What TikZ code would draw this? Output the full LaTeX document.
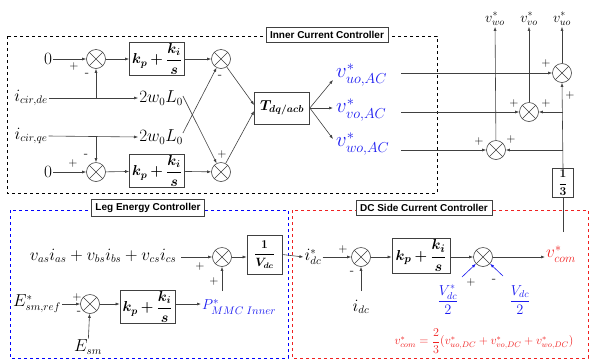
\documentclass[tikz,border=0pt]{standalone}
\usepackage{fontspec}
\setsansfont{Liberation Sans}
\usepackage{amsmath,bm}
\usetikzlibrary{arrows.meta,calc}
\definecolor{ln}{HTML}{404040}
\definecolor{bl}{HTML}{1A1AF0}
\definecolor{rd}{HTML}{F02020}
\begin{document}
\begin{tikzpicture}[x=1pt,y=-1pt,
  ln/.style={draw=ln,line width=0.6pt},
  arr/.style={ln,-{Latex[length=4pt,width=3pt]}},
  sumc/.style={circle,draw=ln,line width=0.6pt,minimum size=19pt,inner sep=0pt,
    path picture={\draw[ln] (path picture bounding box.north west)--(path picture bounding box.south east)
      (path picture bounding box.north east)--(path picture bounding box.south west);}},
  blk/.style={draw=ln,line width=0.7pt,inner sep=1pt,align=center},
  ttl/.style={draw=ln,line width=0.7pt,fill=white,font=\sffamily\bfseries\fontsize{10}{12}\selectfont,inner xsep=4pt,inner ysep=4pt},
  tx/.style={inner sep=1pt,font=\fontsize{16}{18}\selectfont},
  sg/.style={inner sep=0pt,font=\fontsize{13}{14}\selectfont},
  big/.style={inner sep=1pt,font=\fontsize{20}{22}\selectfont,text=bl}
]
\useasboundingbox (0,0) rectangle (590,360);
% ---------------- Inner current controller
\draw[dashed,line width=0.8pt] (7,36) rectangle (437,193);
\node[ttl] (t1) at (327,35) {Inner Current Controller};
\node[tx] (z1) at (48,59) {$0$};
\node[sumc] (s1) at (96,59) {};
\node[blk,minimum width=55pt,minimum height=31pt] (p1) at (157,59) {\fontsize{14}{16}\selectfont$\displaystyle\bm{k_p+\frac{k_i}{s}}$};
\node[sumc] (s2) at (221,59) {};
\node[tx] (icd) at (31,98) {$i_{cir,de}$};
\node[tx] (g1) at (161,98) {$2w_0L_0$};
\node[tx] (icq) at (31,136) {$i_{cir,qe}$};
\node[tx] (g2) at (161,137) {$2w_0L_0$};
\node[tx] (z2) at (48,172) {$0$};
\node[sumc] (s3) at (96,172) {};
\node[blk,minimum width=55pt,minimum height=31pt] (p2) at (157,171) {\fontsize{14}{16}\selectfont$\displaystyle\bm{k_p+\frac{k_i}{s}}$};
\node[sumc] (s4) at (221,172) {};
\node[blk,minimum width=55pt,minimum height=32pt] (T) at (282,108) {\fontsize{14}{16}\selectfont$\bm{T_{dq/acb}}$};
\coordinate (b1) at (96,98);
\coordinate (b2) at (96,137);
\draw[arr] (z1) -- (s1);
\draw[arr] (s1) -- (p1);
\draw[arr] (p1) -- (s2);
\draw[arr] (z2) -- (s3);
\draw[arr] (s3) -- (p2);
\draw[arr] (p2) -- (s4);
\draw[arr] (icd.east) -- (g1.west);
\draw[arr] (icq.east) -- (g2.west);
\draw[arr] (b1) -- (s1.south);
\draw[arr] (b2) -- (s3.north);
\draw[arr] ($(g1.east)+(-1,-2)$) -- (s4);
\draw[arr] ($(g2.east)+(-1,-4)$) -- (s2);
\draw[arr] (s2) -- ($(T.west)+(0,-3)$);
\draw[arr] (s4) -- ($(T.west)+(0,3)$);
\node[sg] at (74,66) {$+$};
\node[sg] at (87,75) {-};
\node[sg] at (220,77) {-};
\node[sg] at (222,154) {$+$};
\node[sg] at (86,156) {-};
\node[sg] at (73,163) {$+$};
\node[big,anchor=west] (vu) at (335,75) {$v^*_{uo,AC}$};
\node[big,anchor=west] (vv) at (335,110) {$v^*_{vo,AC}$};
\node[big,anchor=west] (vw) at (335,144) {$v^*_{wo,AC}$};
\draw[arr] (T.east) -- (333,80);
\draw[arr] (T.east) -- (333,108);
\draw[arr] (T.east) -- (333,139);
% ---------------- right summations
\node[sumc] (r1) at (562,73) {};
\node[sumc] (r2) at (529,112) {};
\node[sumc] (r3) at (496,150) {};
\coordinate (h1) at (401,73);
\coordinate (h2) at (401,112);
\coordinate (h3) at (401,150);
\draw[arr] (h1) -- (r1);
\draw[arr] (h2) -- (r2);
\draw[arr] (h3) -- (r3);
\node[tx,font=\fontsize{14}{16}\selectfont] (ow) at (495,19) {$v^*_{wo}$};
\node[tx,font=\fontsize{14}{16}\selectfont] (ov) at (529,19) {$v^*_{vo}$};
\node[tx,font=\fontsize{14}{16}\selectfont] (ou) at (562,19) {$v^*_{uo}$};
\draw[arr] (r1) -- (ou);
\draw[arr] (r2) -- (ov);
\draw[arr] (r3) -- (ow);
\node[blk,minimum width=21pt,minimum height=29pt,inner sep=0pt] (th) at (563,183) {\fontsize{12}{13}\selectfont$\displaystyle\bm{\frac{1}{3}}$};
\coordinate (c1) at (563,112);
\coordinate (c2) at (563,150);
\draw[arr] (th.north) -- (r1.south);
\draw[arr] (c1) -- (r2.east);
\draw[arr] (c2) -- (r3.east);
\node[sg] at (546,63) {$+$};
\node[sg] at (570,95) {$+$};
\node[sg] at (514,103) {$+$};
\node[sg] at (546,103) {$+$};
\node[sg] at (479,141) {$+$};
\node[sg] at (511,139) {$+$};
% ---------------- Leg energy controller
\draw[dashed,line width=0.8pt,draw=blue] (10,210) rectangle (288,358);
\draw[dashed,line width=0.8pt,draw=rd] (292,210) rectangle (588,358);
\node[ttl] (t2) at (148,208) {Leg Energy Controller};
\node[ttl] (t3) at (424,208) {DC Side Current Controller};
\node[tx] (pw) at (103,256) {$v_{as}i_{as}+v_{bs}i_{bs}+v_{cs}i_{cs}$};
\node[sumc] (l1) at (222,257) {};
\node[blk,minimum width=35pt,minimum height=39pt] (vd) at (264.5,254.5) {\fontsize{12}{14}\selectfont$\displaystyle\bm{\frac{1}{V_{dc}}}$};
\coordinate (pu) at (222,291);
\draw[arr] ($(pw.east)+(4,1)$) -- (l1);
\draw[arr] (pu) -- (l1.south);
\draw[arr] (l1) -- (l1 -| vd.west);
\node[sg] at (200,266) {$+$};
\node[sg] at (214,281) {$+$};
\node[tx] (er) at (37,304) {$E^*_{sm,ref}$};
\node[sumc] (l2) at (90,304) {};
\node[blk,minimum width=55pt,minimum height=32pt] (p3) at (147.5,307) {\fontsize{14}{16}\selectfont$\displaystyle\bm{k_p+\frac{k_i}{s}}$};
\node[tx,text=bl,anchor=west,font=\fontsize{15.5}{17}\selectfont] (pm) at (201,307) {$P^*_{MMC\;Inner}$};
\node[tx] (es) at (88,347) {$E_{sm}$};
\draw[arr] (er) -- (l2);
\draw[arr] (es) -- (l2);
\draw[arr] (l2) -- (l2 -| p3.west);
\draw[arr] (l2 -| p3.east) -- (l2 -| pm.west);
\node[sg] at (77,297) {$+$};
\node[sg] at (79,313) {-};
% ---------------- DC side
\node[tx] (id) at (313,257) {$i^*_{dc}$};
\draw[arr] (vd.east) -- (id.west);
\node[sumc] (d1) at (361,257) {};
\node[blk,minimum width=58pt,minimum height=35pt] (p4) at (421,255.5) {\fontsize{15}{17}\selectfont$\displaystyle\bm{k_p+\frac{k_i}{s}}$};
\node[sumc] (d2) at (483,257) {};
\node[tx,text=rd,anchor=west,font=\fontsize{18}{20}\selectfont] (vc) at (545,254) {$v^*_{com}$};
\node[tx] (idc) at (361,307) {$i_{dc}$};
\coordinate (iu) at (361,291);
\draw[arr] (id.east) -- (d1);
\draw[arr] (iu) -- (d1.south);
\draw[arr] (d1) -- (d1 -| p4.west);
\draw[arr] (d2 -| p4.east) -- (d2);
\draw[arr] (d2) -- (d2 -| vc.west);
\draw[ln] (563,232) -- (th.south);
\node[sg] at (343,249) {$+$};
\node[sg] at (352,273) {-};
\node[tx,text=bl,font=\fontsize{14}{16}\selectfont] (f1) at (448,300) {$\displaystyle\frac{V^*_{dc}}{2}$};
\node[tx,text=bl,font=\fontsize{14}{16}\selectfont] (f2) at (520,300) {$\displaystyle\frac{V_{dc}}{2}$};
\coordinate (a1) at (462,277);
\coordinate (a2) at (503,276);
\draw[-{Latex[length=4pt,width=3pt]},draw=bl,line width=0.6pt] (a1) -- (d2);
\draw[-{Latex[length=4pt,width=3pt]},draw=bl,line width=0.6pt] (a2) -- (d2);
\node[sg] at (471,282) {$+$};
\node[sg] at (494,281) {-};
\node[tx,text=rd,font=\fontsize{12}{13}\selectfont] (eq) at (484,341) {$v^*_{com}=\dfrac{2}{3}(v^*_{uo,DC}+v^*_{vo,DC}+v^*_{wo,DC})$};
\end{tikzpicture}
\end{document}
